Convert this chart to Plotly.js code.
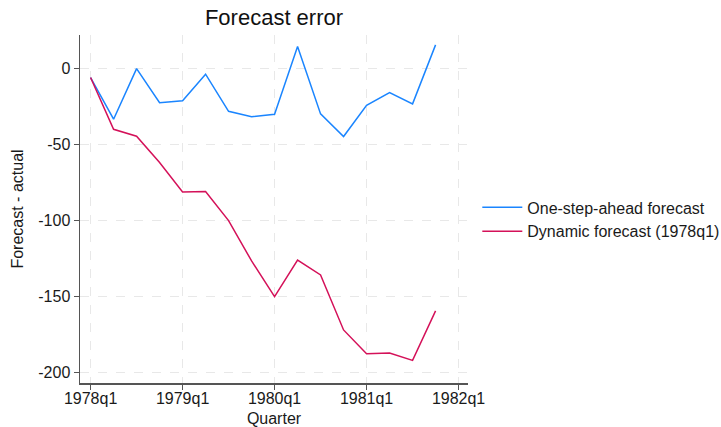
<!DOCTYPE html>
<html><head><meta charset="utf-8">
<script src="https://cdn.plot.ly/plotly-3.0.1.min.js"></script>
<style>html,body{margin:0;padding:0;background:#fff}#c{width:721px;height:427px}</style>
</head><body><div id="c"></div>
<script>
const quarters = ["1978q1","1978q2","1978q3","1978q4","1979q1","1979q2","1979q3","1979q4",
                  "1980q1","1980q2","1980q3","1980q4","1981q1","1981q2","1981q3","1981q4"];
const oneStep = [-5.9,-33.3,0,-22.4,-21.1,-3.7,-28.1,-31.6,-30.0,14.5,-29.8,-44.7,-24.1,-15.8,-23.2,15.6];
const dynamic = [-5.9,-39.9,-44.5,-61.8,-81.1,-80.9,-100,-126.5,-150,-125.9,-135.7,-171.9,-187.5,-187.1,-191.9,-159.4];
const tickLabels = ["1978q1","1979q1","1980q1","1981q1","1982q1"];
const tickPos = [0,4,8,12,16];
const yTicks = [0,-50,-100,-150,-200];

const xIdx = quarters.map((q,i)=>i);
const fam = "Liberation Sans, Arial, sans-serif";
const txt = "#1a1a1a";
const traces = [
  {x:xIdx, y:oneStep, text:quarters, type:"scatter", mode:"lines", name:"One-step-ahead forecast",
   line:{color:"#1a85ff", width:1.5}},
  {x:xIdx, y:dynamic, text:quarters, type:"scatter", mode:"lines", name:"Dynamic forecast (1978q1)",
   line:{color:"#d41159", width:1.5}}
];
const layout = {
  width:721, height:427,
  margin:{l:80, r:253, t:35, b:44, autoexpand:false},
  paper_bgcolor:"#fff", plot_bgcolor:"#fff",
  font:{family:fam, size:16, color:txt},
  title:{text:"Forecast error", font:{family:fam, size:22, color:"#111"}, xref:"paper", x:0.5, xanchor:"center", y:0.96, yanchor:"middle"},
  xaxis:{range:[-0.46,16.41], tickvals:tickPos, ticktext:tickLabels, showgrid:true, gridcolor:"#e8e8e8", griddash:"dash", gridwidth:1.2,
         zeroline:false, showline:true, linecolor:"#555", linewidth:1.5, ticks:"outside", ticklen:5, tickcolor:"#555", automargin:false,
         ticklabelstandoff:-5,
         title:{text:"Quarter", font:{family:fam, size:16, color:txt}, standoff:8}, tickfont:{family:fam, size:16, color:txt}},
  yaxis:{range:[-206.8,22.1], tickvals:yTicks, ticktext:yTicks.map(String), showgrid:true, gridcolor:"#e8e8e8", griddash:"dash", gridwidth:1.2,
         zeroline:false, showline:true, linecolor:"#555", linewidth:1.5, ticks:"outside", ticklen:5, tickcolor:"#555", automargin:false,
         title:{text:"Forecast - actual", font:{family:fam, size:16, color:txt}, standoff:10}, tickfont:{family:fam, size:16, color:txt}},
  legend:{xref:"container", x:0.662, y:0.47, xanchor:"left", yanchor:"middle", font:{family:fam, size:16, color:txt}, tracegroupgap:0, itemwidth:40},
  showlegend:true
};
Plotly.newPlot("c", traces, layout, {displayModeBar:false, staticPlot:true});
</script></body></html>
